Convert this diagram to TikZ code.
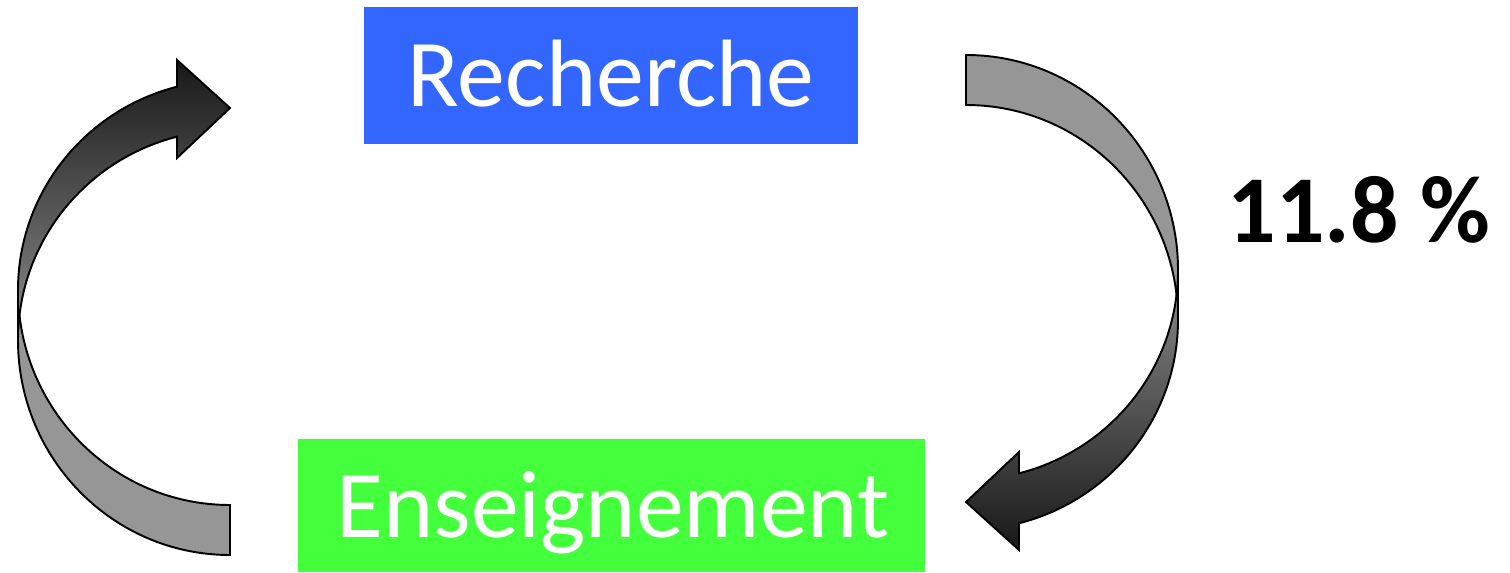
\documentclass[tikz,border=0pt]{standalone}
\usepackage{fontspec}
\setmainfont{Carlito}
\definecolor{boxblue}{RGB}{51,102,255}
\definecolor{boxgreen}{RGB}{68,255,60}
\definecolor{backgray}{RGB}{150,150,150}
\definecolor{frontdark}{RGB}{24,24,24}
\definecolor{frontlight}{RGB}{140,140,140}
\begin{document}
\begin{tikzpicture}[x=0.02cm,y=0.02cm,
  boxtext/.style={font=\fontsize{54.5}{62}\selectfont, text=white, anchor=base, inner sep=0pt},
  labeltext/.style={font=\fontsize{54.5}{62}\selectfont\bfseries, text=black, anchor=base, inner sep=0pt},
  colbox/.style={draw=none, inner sep=0pt, anchor=south west},
  backpart/.style={draw=black, line width=1.1pt, fill=backgray, line join=miter},
  frontpart/.style={draw=black, line width=1.1pt, line join=miter}]
\useasboundingbox (0,0) rectangle (1510,572);
% boxes
\node[colbox, fill=boxblue, minimum width=9.88cm, minimum height=2.74cm] (rechbox) at (364,428) {};
\node[colbox, fill=boxgreen, minimum width=12.54cm, minimum height=2.66cm] (ensbox) at (298,0) {};
\node[boxtext] (rech) at (611,465) {Recherche};
\node[boxtext] (ens) at (613,35) {Enseignement};
\node[labeltext] (pct) at (1359,330) {11.8 \%};
% left arrow (Enseignement -> Recherche)
\path[backpart] (230,17) arc[start angle=270, end angle=180, x radius=212, y radius=215]
  -- (18,282) arc[start angle=180, end angle=270, x radius=212, y radius=215] -- cycle;
\path[frontpart, top color=frontdark, bottom color=frontlight]
  (18,232) arc[start angle=180, end angle=104.48, x radius=212, y radius=210]
  -- (177,414) -- (230,464) -- (177,512) -- (177,485.3)
  arc[start angle=104.48, end angle=180, x radius=212, y radius=210] -- cycle;
% right arrow (Recherche -> Enseignement)
\path[backpart] (966,517) arc[start angle=90, end angle=0, x radius=212, y radius=215]
  -- (1178,252) arc[start angle=0, end angle=90, x radius=212, y radius=215] -- cycle;
\path[frontpart, top color=frontlight, bottom color=frontdark]
  (1178,302) arc[start angle=360, end angle=284.48, x radius=212, y radius=210]
  -- (1019,120) -- (966,70) -- (1019,22) -- (1019,48.7)
  arc[start angle=284.48, end angle=360, x radius=212, y radius=210] -- cycle;
\end{tikzpicture}
\end{document}
